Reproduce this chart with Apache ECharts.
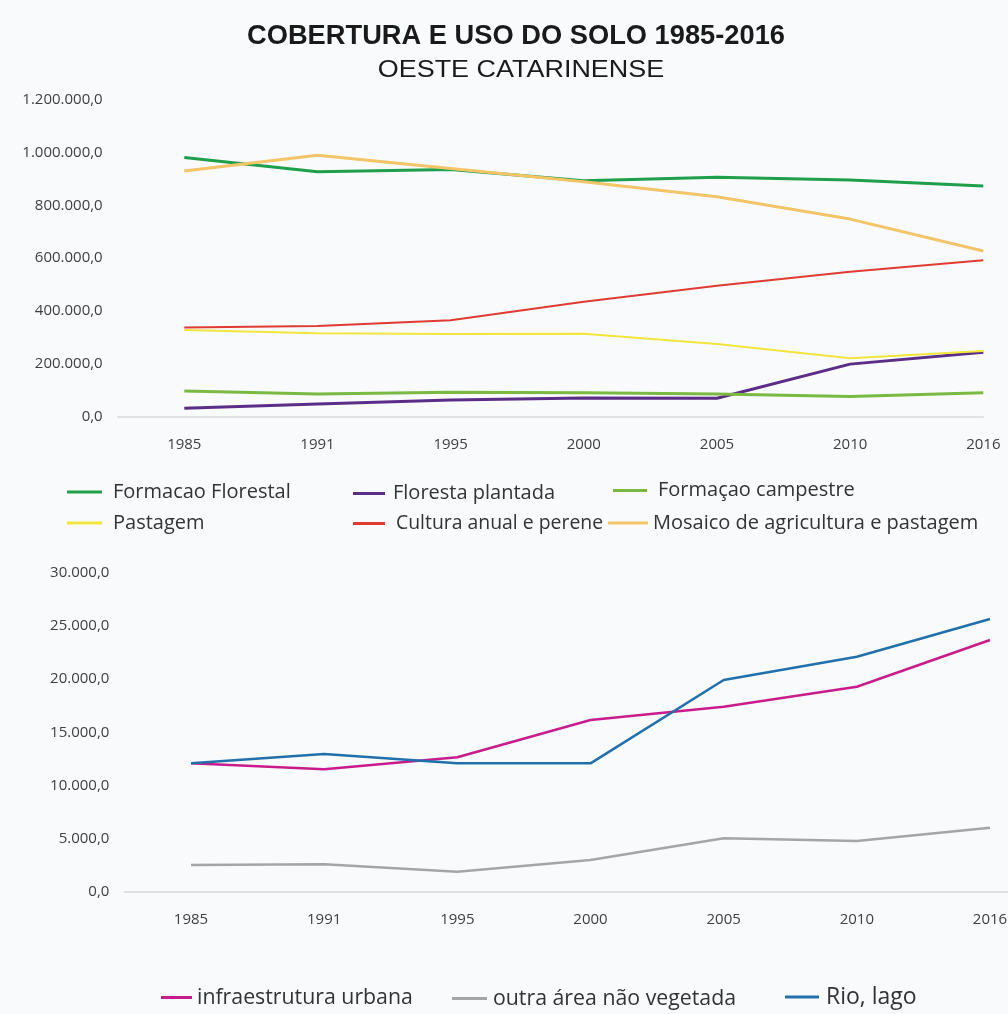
<!DOCTYPE html>
<html>
<head>
<meta charset="utf-8">
<title>Cobertura e uso do solo 1985-2016 - Oeste Catarinense</title>
<script src="https://cdn.jsdelivr.net/npm/echarts@6/dist/echarts.min.js"></script>
<style>
  html, body { margin: 0; padding: 0; background: #f8fafc; }
  #chart { width: 1008px; height: 1014px; }
</style>
</head>
<body>
<div id="chart"></div>
<script>
// Years shared by both panels
const years = ['1985', '1991', '1995', '2000', '2005', '2010', '2016'];

// Upper panel (hectares)
const formacaoFlorestal   = [981000, 927000, 936000, 893000, 906000, 896000, 873000];
const florestaPlantada    = [32000, 48000, 63000, 71000, 70000, 199000, 244000];
const formacaoCampestre   = [97000, 86000, 93000, 91000, 86000, 76000, 91000];
const pastagem            = [328000, 316000, 313000, 314000, 275000, 221000, 249000];
const culturaAnualPerene  = [338000, 343000, 365000, 435000, 496000, 549000, 592000];
const mosaicoAgriPastagem = [930000, 990000, 940000, 889000, 833000, 748000, 627000];

// Lower panel (hectares)
const infraUrbana     = [12080, 11520, 12650, 16160, 17410, 19290, 23690];
const outraNaoVeget   = [2510, 2580, 1880, 2980, 5030, 4770, 6020];
const rioLago         = [12080, 12960, 12080, 12080, 19920, 22110, 25660];

// pt-BR number format: 1.200.000,0
function fmt(v) {
  return String(Math.round(v)).replace(/\B(?=(\d{3})+(?!\d))/g, '.') + ',0';
}

const labelFont = "'Open Sans', 'Noto Sans', sans-serif";
const axisText = { color: '#404040', fontFamily: labelFont, fontSize: 15 };
const axisLineStyle = { show: true, lineStyle: { color: '#d9d9d9', width: 1.5 } };

// Upper panel: year positions as indices on a value axis, so the baseline
// can stop at the last year instead of running to the edge.
const yearIndex = years.map((_, i) => i);
const xAxisTop = {
  type: 'value', gridIndex: 0, min: -0.5, max: years.length - 1,
  axisLine: axisLineStyle, axisTick: { show: false }, splitLine: { show: false },
  axisLabel: Object.assign({
    margin: 21, customValues: yearIndex,
    formatter: v => years[Math.round(v)] || ''
  }, axisText)
};
const xAxisBottom = {
  type: 'category', gridIndex: 1, data: years, boundaryGap: true,
  axisLine: axisLineStyle, axisTick: { show: false }, splitLine: { show: false },
  axisLabel: Object.assign({ margin: 21 }, axisText)
};
function yAxisFor(gridIndex, max, interval) {
  return {
    type: 'value', gridIndex, min: 0, max, interval,
    axisLine: { show: false }, axisTick: { show: false },
    splitLine: { show: false },
    axisLabel: Object.assign({ margin: 15, formatter: fmt }, axisText)
  };
}
function line(name, data, color, width, idx) {
  return {
    name, type: 'line', xAxisIndex: idx, yAxisIndex: idx,
    data: idx === 0 ? data.map((v, i) => [yearIndex[i], v]) : data,
    showSymbol: false, symbol: 'none', animation: false, clip: false,
    lineStyle: { color, width }, itemStyle: { color }
  };
}
function legendItem(name, left, top, iconW, fontSize, pad) {
  return {
    data: [name], left, top, padding: 0, icon: 'rect',
    itemWidth: iconW, itemHeight: 3, selectedMode: false,
    textStyle: { color: '#333', fontFamily: labelFont, fontSize, padding: [0, 0, 0, pad] }
  };
}

const C = {
  florestal: '#1f9e4b', plantada: '#5c2d87', campestre: '#7aba42',
  pastagem: '#f2e63c', cultura: '#df3b33', mosaico: '#f4c468',
  urbana: '#c91c8c', outra: '#a5a5a5', rio: '#2170ac'
};

const titleFont = "'Liberation Sans', Arial, sans-serif";

const option = {
  backgroundColor: '#f8fafc',
  graphic: [
    { type: 'text', x: 516, y: 37, scaleX: 1.01,
      style: { text: 'COBERTURA E USO DO SOLO 1985-2016', font: 'bold 27px ' + titleFont,
               fill: '#1a1a1a', textAlign: 'center', textVerticalAlign: 'middle' } },
    { type: 'text', x: 521, y: 70, scaleX: 1.1,
      style: { text: 'OESTE CATARINENSE', font: 'normal 24.5px ' + titleFont,
               fill: '#1a1a1a', textAlign: 'center', textVerticalAlign: 'middle' } }
  ],
  grid: [
    { left: 117.7, right: 24.7, top: 99.7, bottom: 597.3, outerBoundsMode: 'none', containLabel: false },
    { left: 124.4, right: -48.6, top: 572.9, bottom: 122.3, outerBoundsMode: 'none', containLabel: false }
  ],
  xAxis: [xAxisTop, xAxisBottom],
  yAxis: [yAxisFor(0, 1200000, 200000), yAxisFor(1, 30000, 5000)],
  legend: [
    legendItem('Formacao Florestal', 67, 482, 35, 20, 6),
    legendItem('Floresta plantada', 353, 483.5, 32, 20, 3),
    legendItem('Formaçao campestre', 613, 480.5, 34, 20, 6),
    legendItem('Pastagem', 67, 513, 35, 20, 6),
    legendItem('Cultura anual e perene', 353, 514, 32, 19.4, 6),
    legendItem('Mosaico de agricultura e pastagem', 608, 513, 40, 20, 0),
    legendItem('infraestrutura urbana', 161, 987, 31, 21.3, 0),
    legendItem('outra área não vegetada', 452, 988, 35, 21.3, 1),
    legendItem('Rio, lago', 785, 985.5, 34, 23, 2)
  ],
  series: [
    line('Formacao Florestal', formacaoFlorestal, C.florestal, 3, 0),
    line('Floresta plantada', florestaPlantada, C.plantada, 3, 0),
    line('Formaçao campestre', formacaoCampestre, C.campestre, 3, 0),
    line('Pastagem', pastagem, C.pastagem, 2, 0),
    line('Cultura anual e perene', culturaAnualPerene, C.cultura, 2, 0),
    line('Mosaico de agricultura e pastagem', mosaicoAgriPastagem, C.mosaico, 3, 0),
    line('infraestrutura urbana', infraUrbana, C.urbana, 2.5, 1),
    line('outra área não vegetada', outraNaoVeget, C.outra, 2.5, 1),
    line('Rio, lago', rioLago, C.rio, 2.5, 1)
  ]
};

const chart = echarts.init(document.getElementById('chart'), null, { renderer: 'canvas' });
chart.setOption(option);
</script>
</body>
</html>
